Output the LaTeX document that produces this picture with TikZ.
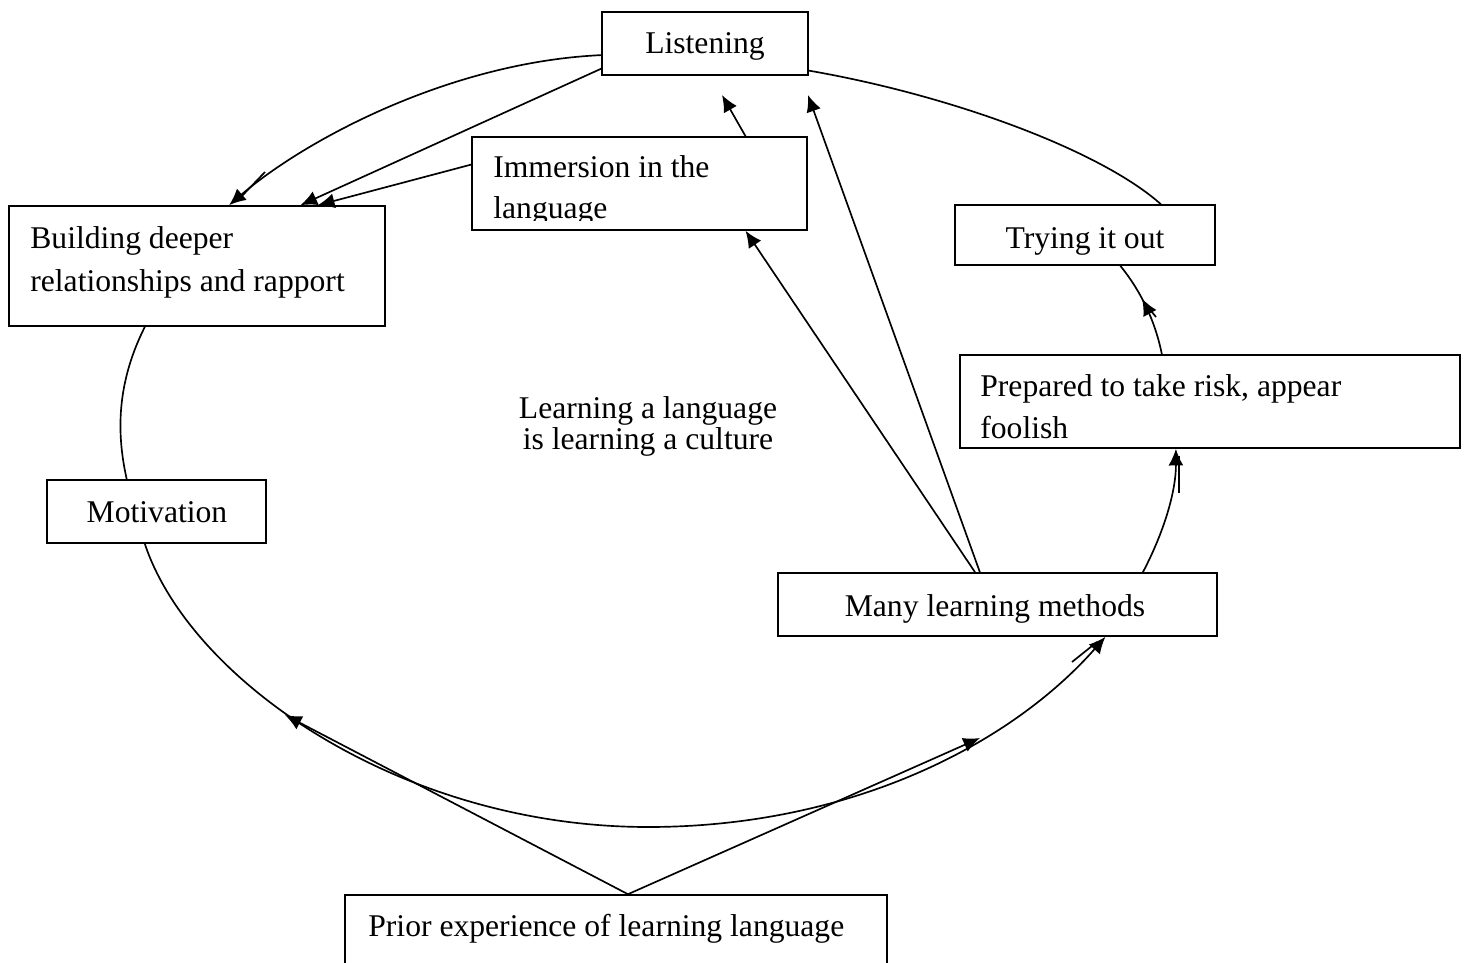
\documentclass[tikz,border=0pt]{standalone}
\usepackage{fontspec}
\setmainfont{Liberation Serif}
\usetikzlibrary{arrows.meta,calc,fit,decorations.markings}
\begin{document}
\begin{tikzpicture}[x=0.02cm,y=-0.02cm,
  box/.style={draw,line width=0.9pt,inner sep=0pt},
  lbl/.style={inner sep=0pt,font=\fontsize{18}{24.4}\selectfont},
  conn/.style={line width=0.95pt},
  arr/.style={line width=0.95pt,-{Latex[length=9.5pt,width=8.5pt]}},
  midarr/.style={line width=0.95pt,postaction={decorate},
    decoration={markings,mark=at position #1 with {\arrow{Latex[length=9.5pt,width=8.5pt]}}}}]
\useasboundingbox (0,0) rectangle (1467,963);
% boxes
\node[box,fit={(602,12)(808,75)}] (lis) {};
\node[box,fit={(472,137)(807,230)}] (imm) {};
\node[box,fit={(9,206)(385,326)}] (bld) {};
\node[box,fit={(955,205)(1215,265)}] (try) {};
\node[box,fit={(960,355)(1460,448)}] (prep) {};
\node[box,fit={(47,480)(266,543)}] (mot) {};
\node[box,fit={(778,573)(1217,636)}] (many) {};
\node[box,fit={(345,895)(887,975)}] (prior) {};
% texts
\node[lbl,anchor=base] (tlis) at (705,54) {Listening};
\begin{scope}
\clip (472,137) rectangle (807,220.5);
\node[lbl,anchor=base west] (timma) at (493,177) {Immersion in the};
\node[lbl,anchor=base west] (timmb) at (493,218) {language};
\end{scope}
\node[lbl,anchor=base west] (tblda) at (30,248) {Building deeper};
\node[lbl,anchor=base west] (tbldb) at (30,291) {relationships and rapport};
\node[lbl,anchor=base] (ttry) at (1085,248) {Trying it out};
\node[lbl,anchor=base west] (tprepa) at (980,396) {Prepared to take risk, appear};
\node[lbl,anchor=base west] (tprepb) at (980,438) {foolish};
\node[lbl,anchor=base] (tmot) at (157,522) {Motivation};
\node[lbl,anchor=base] (tmany) at (995,616) {Many learning methods};
\node[lbl,anchor=base] (tcena) at (648,418) {Learning a language};
\node[lbl,anchor=base] (tcenb) at (648,449) {is learning a culture};
\node[lbl,anchor=base west] (tprior) at (368,936) {Prior experience of learning language};
% free ends
\coordinate (dtip) at (722,95);
\coordinate (etip) at (808,95);
\coordinate (ltip) at (285,715);
\coordinate (mtip) at (980,738);
\coordinate (kbot) at (648,827);
% connectors
\draw[arr] ($(lis.north west)!0.68!(lis.south west)$) .. controls (450,62) and (305,140) .. ($(bld.north west)!0.585!(bld.north east)$);
\draw[conn] (265,172) -- (241,197);
\draw[arr] ($(lis.north west)!0.89!(lis.south west)$) -- ($(bld.north west)!0.774!(bld.north east)$);
\draw[arr] ($(imm.north west)!0.30!(imm.south west)$) -- ($(bld.north west)!0.82!(bld.north east)$);
\draw[arr] ($(imm.north west)!0.815!(imm.north east)$) -- (dtip);
\draw[arr] ($(many.north west)!0.46!(many.north east)$) -- (etip);
\draw[arr] ($(many.north west)!0.449!(many.north east)$) -- ($(imm.south west)!0.815!(imm.south east)$);
\draw[conn] ($(lis.north east)!0.92!(lis.south east)$) .. controls (950,95) and (1100,150) .. ($(try.north west)!0.79!(try.north east)$);
\draw[midarr=0.6] ($(prep.north west)!0.404!(prep.north east)$) .. controls (1155,320) and (1140,290) .. ($(try.south west)!0.635!(try.south east)$);
\draw[conn] (1147,306) -- (1156,317);
\draw[arr] ($(many.north west)!0.83!(many.north east)$) .. controls (1165,530) and (1176,490) .. ($(prep.south west)!0.432!(prep.south east)$);
\draw[conn] (1179,456) -- (1179,493);
\draw[conn] ($(bld.south west)!0.362!(bld.south east)$) .. controls (114,388) and (118,440) .. ($(mot.north west)!0.365!(mot.north east)$);
\draw[arr] ($(mot.south west)!0.447!(mot.south east)$) .. controls (190,680) and (400,827) .. (kbot) .. controls (850,827) and (1010,745) .. ($(many.south west)!0.745!(many.south east)$);
\draw[conn] (1072,662) -- (1097,642);
\draw[arr] ($(prior.north west)!0.522!(prior.north east)$) -- (ltip);
\draw[arr] ($(prior.north west)!0.522!(prior.north east)$) -- (mtip);
\end{tikzpicture}
\end{document}
